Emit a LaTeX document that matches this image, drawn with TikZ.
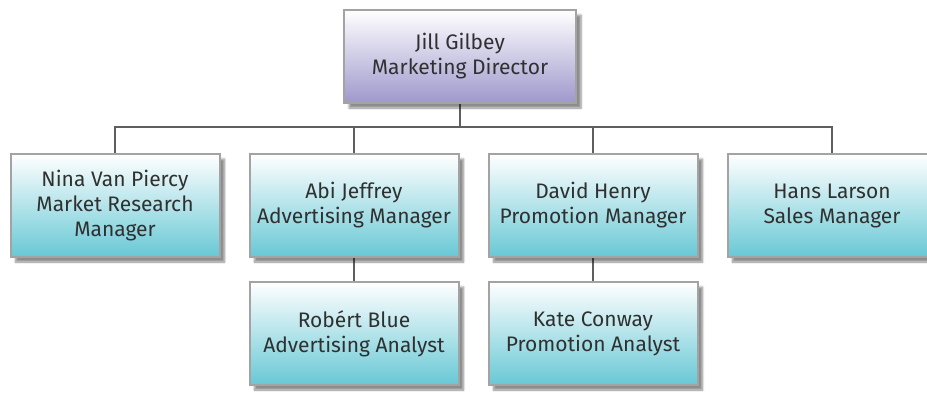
\documentclass[tikz,border=0pt]{standalone}
\usepackage{fontspec}
\setmainfont{Fira Sans}
\usetikzlibrary{positioning,shadows.blur,backgrounds}
\definecolor{boxline}{HTML}{A3A3A3}
\definecolor{linkgray}{HTML}{5F5F5F}
\definecolor{teamcyan}{HTML}{68C8D5}
\definecolor{headlilac}{HTML}{9E98CC}
\definecolor{txtgray}{HTML}{303030}

\begin{document}
\begin{tikzpicture}[x=1pt, y=-1pt, node distance=28pt,
    staff/.style={draw=boxline, line width=2pt, top color=white, bottom color=teamcyan,
      minimum width=209pt, minimum height=103pt, align=center, text=txtgray,
      font=\fontsize{21}{25}\selectfont,
      blur shadow={shadow xshift=5pt, shadow yshift=-5pt, shadow blur steps=6, shadow opacity=45}},
    head/.style={staff, bottom color=headlilac, minimum width=232pt, minimum height=93pt},
    link/.style={draw=linkgray, line width=2.5pt}]
  \useasboundingbox (0,0) rectangle (927,394);
  \node[head] (jill) at (460,56.5) {Jill Gilbey\\Marketing Director};
  \node[staff] (nina) at (115,205.5) {Nina Van Piercy\\Market Research\\Manager};
  \node[staff, right=of nina] (abi) {Abi Jeffrey\\Advertising Manager};
  \node[staff, right=of abi] (david) {David Henry\\Promotion Manager};
  \node[staff, right=of david] (hans) {Hans Larson\\Sales Manager};
  \node[staff, below=23pt of abi] (robert) {Rob\'ert Blue\\Advertising Analyst};
  \node[staff, below=23pt of david] (kate) {Kate Conway\\Promotion Analyst};

  \begin{scope}[on background layer]
    \foreach \n in {nina,abi,david,hans}
      \draw[link] (jill.south) -- ++(0,23) -| (\n.north);
    \draw[link] (abi) -- (robert);
    \draw[link] (david) -- (kate);
  \end{scope}
\end{tikzpicture}
\end{document}
